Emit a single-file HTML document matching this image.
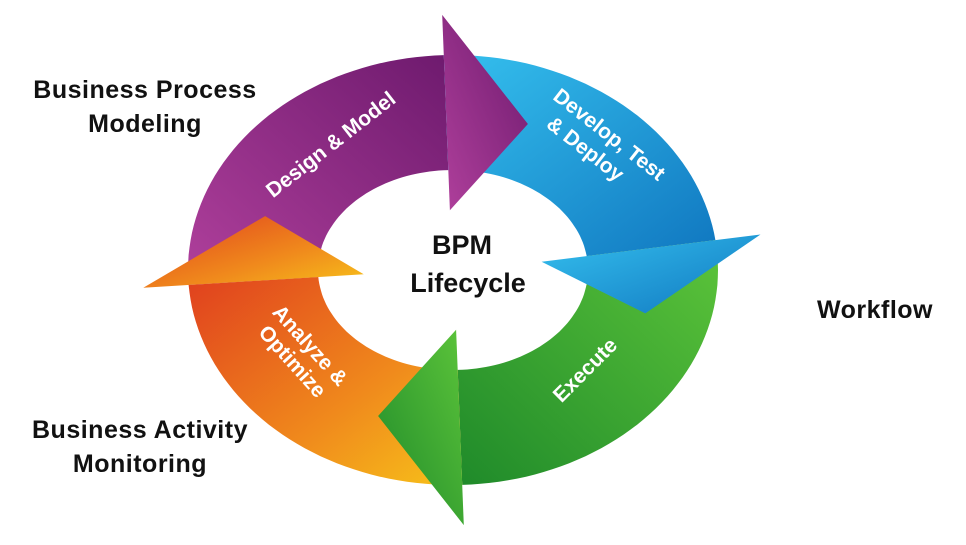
<!DOCTYPE html>
<html><head><meta charset="utf-8">
<style>
html,body{margin:0;padding:0;background:#fff;}
body{width:966px;height:545px;overflow:hidden;position:relative;font-family:"Liberation Sans",sans-serif;}
svg{position:absolute;left:0;top:0;}
.lbl{position:absolute;font-weight:bold;font-size:25px;letter-spacing:0.5px;color:#111;text-align:center;line-height:34px;}
</style></head><body>
<svg id="s" width="966" height="545" viewBox="0 0 966 545">
<defs>
<linearGradient id="gp" x1="0" y1="1" x2="1" y2="0"><stop offset="0" stop-color="#b0409c"/><stop offset="1" stop-color="#6e1a6e"/></linearGradient>
<linearGradient id="gb" x1="0" y1="0" x2="1" y2="1"><stop offset="0" stop-color="#35c0ee"/><stop offset="1" stop-color="#1077c0"/></linearGradient>
<linearGradient id="gg" x1="1" y1="0" x2="0" y2="1"><stop offset="0" stop-color="#5cc43a"/><stop offset="1" stop-color="#1f8a2a"/></linearGradient>
<linearGradient id="go" x1="0" y1="0" x2="1" y2="1"><stop offset="0" stop-color="#e0401e"/><stop offset="0.6" stop-color="#f08a1c"/><stop offset="1" stop-color="#f7c21a"/></linearGradient>
</defs>
<g id="bodies"></g><g id="heads"></g>
<g font-family="Liberation Sans, sans-serif" font-weight="bold" fill="#fff" font-size="21" text-anchor="middle">
<text transform="translate(335,150) rotate(-38)">Design &amp; Model</text>
<text transform="translate(605,140) rotate(38)"><tspan x="0" y="0">Develop, Test</tspan><tspan x="-10" y="26">&amp; Deploy</tspan></text>
<text transform="translate(590,375) rotate(-45)">Execute</text>
<text transform="translate(305,350) rotate(48)"><tspan x="0" y="0">Analyze &amp;</tspan><tspan x="0" y="24">Optimize</tspan></text>
</g>
<g font-family="Liberation Sans, sans-serif" font-weight="bold" fill="#111" font-size="27" text-anchor="middle">
<text x="462" y="254">BPM</text><text x="468" y="292">Lifecycle</text>
</g>
</svg>
<div class="lbl" style="left:10px;top:73px;width:270px;">Business Process<br>Modeling</div>
<div class="lbl" style="left:795px;top:293px;width:160px;">Workflow</div>
<div class="lbl" style="left:5px;top:413px;width:270px;">Business Activity<br>Monitoring</div>
<script>
var cx=453,cy=270,RX=265,RY=215,rx=135,ry=100;
function P(a,f){a=a*Math.PI/180;var X=rx+(RX-rx)*f,Y=ry+(RY-ry)*f;return (cx+X*Math.cos(a)).toFixed(1)+","+(cy+Y*Math.sin(a)).toFixed(1);}
function body(a0,a1){var d="M"+P(a0,1);for(var a=a0;a<=a1;a+=2)d+=" L"+P(a,1);d+=" L"+P(a1,1)+" L"+P(a1,0);for(var a=a1;a>=a0;a-=2)d+=" L"+P(a,0);return d+" L"+P(a0,0)+"Z";}
function head(a1,d){return "M"+P(a1,1.35)+" L"+P(a1+d,0.5)+" L"+P(a1,-0.35)+" Z";}
var segs=[[176,268,24,"gp"],[268,352,24,"gb"],[352,448,24,"gg"],[88,176,24,"go"]];
var b=document.getElementById("bodies"),h=document.getElementById("heads"),ns="http://www.w3.org/2000/svg";
segs.forEach(function(s){var p=document.createElementNS(ns,"path");p.setAttribute("d",body(s[0],s[1]));p.setAttribute("fill","url(#"+s[3]+")");b.appendChild(p);
var q=document.createElementNS(ns,"path");q.setAttribute("d",head(s[1],s[2]));q.setAttribute("fill","url(#"+s[3]+")");h.appendChild(q);});
</script>
</body></html>
